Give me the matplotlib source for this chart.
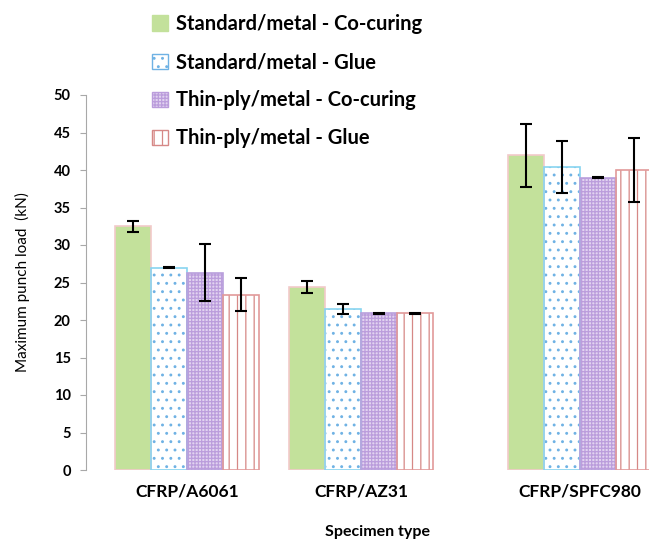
import numpy as np
import matplotlib
matplotlib.use("Agg")
import matplotlib.pyplot as plt
from matplotlib.patches import Patch

plt.rcParams['font.family'] = ['Lato', 'DejaVu Sans']
plt.rcParams['hatch.linewidth'] = 0.9

# data
specimens = ["CFRP/A6061", "CFRP/AZ31", "CFRP/SPFC980"]
series = ["Standard/metal - Co-curing", "Standard/metal - Glue",
          "Thin-ply/metal - Co-curing", "Thin-ply/metal - Glue"]
std_cocure = [32.5, 24.4, 42.0]
std_glue = [27.0, 21.5, 40.4]
thin_cocure = [26.3, 20.9, 39.0]
thin_glue = [23.4, 20.9, 40.0]
std_cocure_err = [0.7, 0.8, 4.2]
std_glue_err = [0.1, 0.7, 3.5]
thin_cocure_err = [3.8, 0.1, 0.1]
thin_glue_err = [2.2, 0.1, 4.3]

values = [std_cocure, std_glue, thin_cocure, thin_glue]
errors = [std_cocure_err, std_glue_err, thin_cocure_err, thin_glue_err]

# styles: face, hatch colour, hatch, border
faces = ["#c3e19b", "white", "#e2d3f0", "white"]
hatch_cols = ["#c3e19b", "#6fb2e4", "#bb9ddc", "#d68886"]
hatches = [None, "..", "+++++", "||"]
borders = ["#f2caca", "#88d4f0", "#b9a0dc", "#e29a9a"]

xpos = np.array([0, 1, 2.259])
w = 0.207

fig = plt.figure(figsize=(6.49, 5.46), dpi=100)
ax = fig.add_axes([86/649, 76/546, 584/649, 375/546])

for i in range(4):
    x = xpos + (i - 1.5) * w
    ax.bar(x, values[i], w, color=faces[i], edgecolor=hatch_cols[i],
           hatch=hatches[i], linewidth=0, zorder=2)
    ax.bar(x, values[i], w, color="none", edgecolor=borders[i],
           linewidth=1.2, zorder=3)
    ax.errorbar(x, values[i], yerr=errors[i], fmt="none", ecolor="black",
                elinewidth=1.5, capsize=4, capthick=1.5, zorder=4)

ax.set_ylim(0, 50)
ax.set_xlim(-0.58, 2.776)
ax.set_yticks(np.arange(0, 51, 5))
ax.set_xticks(xpos)
ax.set_xticklabels(specimens, fontsize=12.5, fontweight="bold")
for lab in ax.get_yticklabels():
    lab.set_fontweight("bold")
    lab.set_fontsize(10.5)
ax.tick_params(axis="x", length=0, pad=10)
ax.tick_params(axis="y", color="#a8a8a8", length=4, pad=7)
for s in ["top", "right", "bottom"]:
    ax.spines[s].set_visible(False)
ax.spines["left"].set_color("#a8a8a8")

ax.set_ylabel("Maximum punch load  (kN)", fontsize=11, labelpad=17)
ax.set_xlabel("Specimen type", fontsize=11.5, fontweight="bold", labelpad=18)

handles = [Patch(facecolor=faces[i], edgecolor=hatch_cols[i], hatch=hatches[i],
                 linewidth=1) for i in range(4)]
fig.legend(handles, series, loc="upper left", bbox_to_anchor=(134/649, 1 + 4/546),
           frameon=False, handlelength=0.8, handleheight=0.8, handletextpad=0.4,
           labelspacing=0.9, prop={"weight": "bold", "size": 14.5})

fig.savefig("out.png", dpi=100)
